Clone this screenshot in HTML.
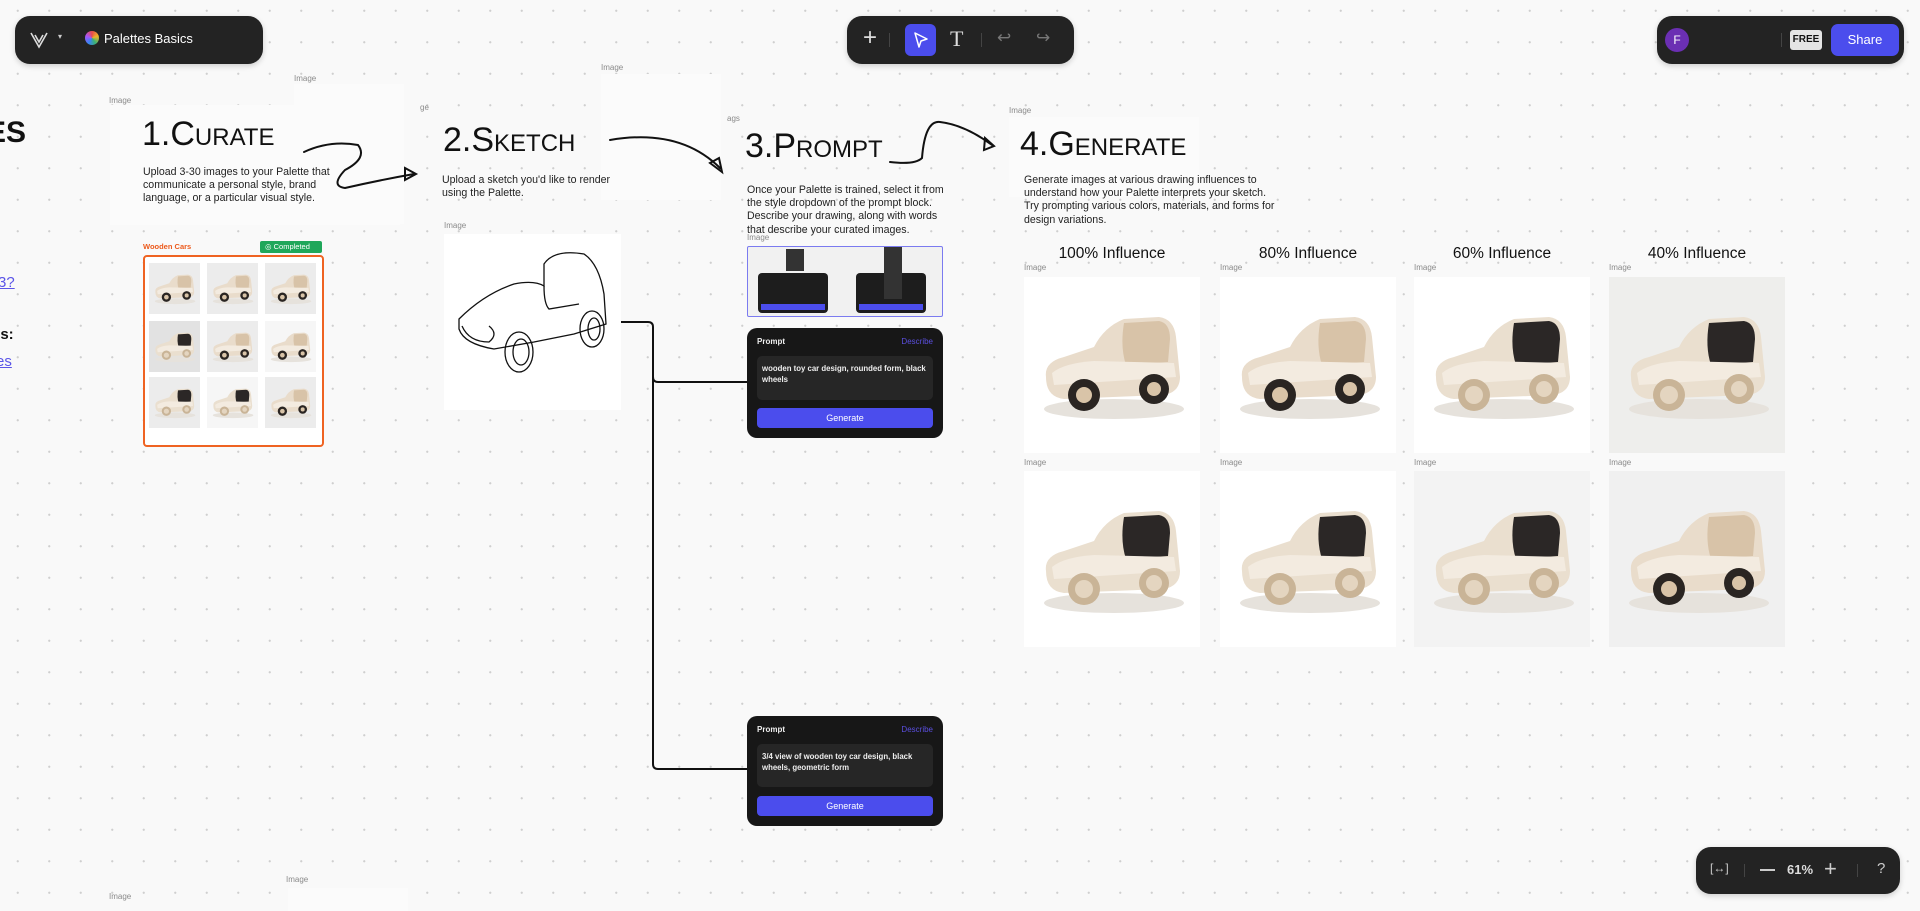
<!DOCTYPE html>
<html><head><meta charset="utf-8"><style>
*{margin:0;padding:0;box-sizing:border-box}
body{width:1920px;height:911px;overflow:hidden;position:relative;background-color:#f9f9f9;
background-image:radial-gradient(circle,#cfcfcf 0.9px,transparent 1.3px);background-size:31.5px 31.5px;background-position:2px -5px;
font-family:"Liberation Sans",sans-serif;color:#111}
.a{position:absolute}
.lbl{position:absolute;font-size:8px;color:#8a8a8a}
.hd{position:absolute;font-family:"Liberation Sans",sans-serif;font-variant:small-caps;font-size:34px;line-height:44px;color:#111;letter-spacing:0;font-weight:normal;white-space:nowrap}
.desc{position:absolute;font-size:10.6px;line-height:13.2px;color:#222}
.bar{position:absolute;background:#232323;border-radius:15px;box-shadow:0 2px 6px rgba(0,0,0,.18)}
.card{position:absolute;background:#171717;border-radius:10px;width:196px}
.card .t{position:absolute;left:10px;top:9px;font-size:8px;color:#eee;font-weight:bold}
.card .d{position:absolute;right:10px;top:9px;font-size:8px;color:#5b4fe0}
.card .ta{position:absolute;left:10px;right:10px;background:#262626;border-radius:5px;color:#eee;font-size:7.8px;font-weight:bold;padding:7px 5px;line-height:11px}
.card .btn{position:absolute;left:10px;right:10px;height:20px;background:#4b4ded;border-radius:4px;color:#fff;font-size:9px;text-align:center;line-height:20px}
.img{position:absolute;background:#fff}
.inf{position:absolute;font-size:15.5px;color:#111;width:176px;text-align:center}
.th{position:absolute;width:51px;height:51px;background:#ececec}
.faint{position:absolute;background:#fbfbfb}
</style></head><body>
<svg width="0" height="0" style="position:absolute">
<defs>
<symbol id="car" viewBox="0 0 176 176">
<ellipse cx="90" cy="132" rx="70" ry="10" fill="#e6e2dc"/>
<path d="M22 100 Q20 85 40 80 L70 70 Q80 50 100 42 L135 40 Q150 42 152 60 L156 100 Q156 115 140 118 L40 122 Q22 120 22 100Z" fill="#e9dccb"/>
<path d="M100 46 L135 44 Q146 46 146 62 L144 85 L102 88 Q96 70 100 46Z" fill="#d8c3a8"/>
<path d="M28 96 Q40 86 70 84 L150 86 L152 100 L30 108Z" fill="#f3ebe0"/>
<circle cx="60" cy="118" r="16" fill="#2a2522"/><circle cx="60" cy="118" r="8" fill="#d9c4a8"/>
<circle cx="130" cy="112" r="15" fill="#2a2522"/><circle cx="130" cy="112" r="7" fill="#d9c4a8"/>
</symbol>
<symbol id="carw" viewBox="0 0 176 176">
<ellipse cx="90" cy="132" rx="70" ry="10" fill="#e6e2dc"/>
<path d="M22 100 Q20 85 40 80 L70 70 Q80 50 100 42 L135 40 Q150 42 152 60 L156 100 Q156 115 140 118 L40 122 Q22 120 22 100Z" fill="#eadfcf"/>
<path d="M100 46 L135 44 Q146 46 146 62 L144 85 L102 88 Q96 70 100 46Z" fill="#2b2726"/>
<path d="M28 96 Q40 86 70 84 L150 86 L152 100 L30 108Z" fill="#f3ebe0"/>
<circle cx="60" cy="118" r="16" fill="#c9b497"/><circle cx="60" cy="118" r="9" fill="#e4d5c0"/>
<circle cx="130" cy="112" r="15" fill="#c9b497"/><circle cx="130" cy="112" r="8" fill="#e4d5c0"/>
</symbol>
</defs></svg>

<div class="faint" style="left:110px;top:105px;width:290px;height:120px"></div>
<div class="faint" style="left:294px;top:84px;width:110px;height:140px"></div>
<div class="faint" style="left:601px;top:74px;width:120px;height:126px"></div>
<div class="faint" style="left:1009px;top:117px;width:190px;height:80px"></div>

<div class="a" style="left:-14px;top:116px;font-size:30px;font-weight:bold;font-variant:small-caps">ES</div>
<div class="a" style="left:-2px;top:274px;font-size:15px;color:#5b55e8;text-decoration:underline">3?</div>
<div class="a" style="left:-8px;top:326px;font-size:15px;font-weight:bold">es:</div>
<div class="a" style="left:-4px;top:353px;font-size:15px;color:#5b55e8;text-decoration:underline">es</div>

<div class="bar" style="left:15px;top:16px;width:248px;height:48px">
<svg class="a" style="left:14px;top:15px" width="20" height="18" viewBox="0 0 20 18"><path d="M2 2 L10 16 L18 2 M6 4 L10 11 L14 4" fill="none" stroke="#ddd" stroke-width="1.6"/></svg>
<div class="a" style="left:43px;top:16px;color:#ccc;font-size:8px">▾</div>
<div class="a" style="left:70px;top:15px;width:14px;height:14px;border-radius:50%;background:conic-gradient(#e94b4b,#f0b429,#3bb273,#3b82f6,#a855f7,#e94b4b)"></div>
<div class="a" style="left:89px;top:15px;color:#fff;font-size:13px">Palettes Basics</div>
</div>

<div class="bar" style="left:847px;top:16px;width:227px;height:48px">
<div class="a" style="left:16px;top:8px;color:#ddd;font-size:24px;font-weight:300">+</div>
<div class="a" style="left:58px;top:8px;width:31px;height:32px;background:#4b4ded;border-radius:6px">
<svg width="31" height="32"><path d="M10 9 L22 15 L16 17 L14 23 Z" fill="none" stroke="#fff" stroke-width="1.5" stroke-linejoin="round"/></svg></div>
<div class="a" style="left:103px;top:10px;color:#ddd;font-size:22px;font-family:'Liberation Serif',serif">T</div>
<div class="a" style="left:42px;top:17px;width:1px;height:14px;background:#444"></div>
<div class="a" style="left:134px;top:17px;width:1px;height:14px;background:#444"></div>
<div class="a" style="left:150px;top:12px;color:#777;font-size:17px">↩</div>
<div class="a" style="left:189px;top:12px;color:#777;font-size:17px">↪</div>
</div>

<div class="bar" style="left:1657px;top:16px;width:247px;height:48px">
<div class="a" style="left:8px;top:12px;width:24px;height:24px;border-radius:50%;background:#6b2fb3;color:#fff;font-size:12px;text-align:center;line-height:24px">F</div>
<div class="a" style="left:124px;top:17px;width:1px;height:14px;background:#444"></div>
<div class="a" style="left:133px;top:14px;width:32px;height:20px;background:#e4e4e4;border-radius:3px;color:#111;font-size:10px;font-weight:bold;text-align:center;line-height:20px">FREE</div>
<div class="a" style="left:174px;top:8px;width:68px;height:32px;background:#4b4ded;border-radius:7px;color:#fff;font-size:13px;text-align:center;line-height:32px">Share</div>
</div>

<div class="bar" style="left:1696px;top:847px;width:204px;height:47px">
<div class="a" style="left:14px;top:14px;color:#ccc;font-size:12px">[↔]</div>
<div class="a" style="left:48px;top:17px;width:1px;height:13px;background:#444"></div>
<div class="a" style="left:64px;top:22px;width:15px;height:1.5px;background:#ccc"></div>
<div class="a" style="left:91px;top:15px;color:#ddd;font-size:13px;font-weight:bold">61%</div>
<div class="a" style="left:128px;top:9px;color:#ccc;font-size:22px;font-weight:300">+</div>
<div class="a" style="left:161px;top:17px;width:1px;height:13px;background:#444"></div>
<div class="a" style="left:181px;top:13px;color:#ccc;font-size:15px">?</div>
</div>

<div class="lbl" style="left:109px;top:96px">Image</div>
<div class="lbl" style="left:294px;top:74px">Image</div>
<div class="lbl" style="left:601px;top:63px">Image</div>
<div class="lbl" style="left:420px;top:103px">ge</div>
<div class="lbl" style="left:727px;top:114px">ags</div>
<div class="lbl" style="left:1009px;top:106px">Image</div>

<div class="hd" style="left:142px;top:112px">1.Curate</div>
<div class="desc" style="left:143px;top:166px">Upload 3-30 images to your Palette that<br>communicate a personal style, brand<br>language, or a particular visual style.</div>
<div class="a" style="left:143px;top:242px;font-size:7.5px;font-weight:bold;color:#ec5a1c">Wooden Cars</div>
<div class="a" style="left:260px;top:241px;width:62px;height:12px;background:#1fa75a;border-radius:2px;color:#fff;font-size:7.5px;line-height:12px;padding-left:5px">◎ Completed</div>
<div class="a" style="left:143px;top:255px;width:181px;height:192px;border:2px solid #ef6322;border-radius:4px;background:#fff"></div>
<div class="th" style="left:149px;top:263px"><svg width="51" height="51"><use href="#car"/></svg></div>
<div class="th" style="left:207px;top:263px"><svg width="51" height="51"><use href="#car"/></svg></div>
<div class="th" style="left:265px;top:263px"><svg width="51" height="51"><use href="#car"/></svg></div>
<div class="th" style="left:149px;top:321px;background:#e2e2e2"><svg width="51" height="51"><use href="#carw"/></svg></div>
<div class="th" style="left:207px;top:321px"><svg width="51" height="51"><use href="#car"/></svg></div>
<div class="th" style="left:265px;top:321px;background:#f6f6f6"><svg width="51" height="51"><use href="#car"/></svg></div>
<div class="th" style="left:149px;top:377px"><svg width="51" height="51"><use href="#carw"/></svg></div>
<div class="th" style="left:207px;top:377px;background:#f6f6f6"><svg width="51" height="51"><use href="#carw"/></svg></div>
<div class="th" style="left:265px;top:377px"><svg width="51" height="51"><use href="#car"/></svg></div>

<div class="hd" style="left:443px;top:118px">2.Sketch</div>
<div class="desc" style="left:442px;top:174px">Upload a sketch you'd like to render<br>using the Palette.</div>
<div class="lbl" style="left:444px;top:221px">Image</div>
<div class="img" style="left:444px;top:234px;width:177px;height:176px">
<svg width="177" height="176" viewBox="0 0 177 176"><g fill="none" stroke="#111" stroke-width="1.3">
<path d="M15 85 Q40 60 70 50 Q90 46 100 52 L100 30 Q110 15 140 20 Q155 30 160 60 L162 90 L130 100 L90 108 L50 115 Q20 110 15 95 Z"/>
<path d="M100 52 Q100 70 105 75 L135 70"/>
<ellipse cx="75" cy="118" rx="14" ry="20"/><ellipse cx="77" cy="118" rx="8" ry="13"/>
<ellipse cx="148" cy="95" rx="12" ry="18"/><ellipse cx="150" cy="95" rx="6" ry="11"/>
<path d="M18 92 Q25 108 45 108 Q55 100 45 92"/></g></svg></div>

<svg class="a" style="left:0;top:0" width="1920" height="911">
<g fill="none" stroke="#111" stroke-width="2" stroke-linecap="round">
<path d="M304 152 Q330 140 358 145 Q368 158 345 170 Q330 186 345 188 Q380 180 414 174"/>
<path d="M405 168 L416 174 L405 180 Z"/>
<path d="M610 140 Q680 128 720 168"/>
<path d="M710 163 L722 172 L719 158 Z"/>
<path d="M890 162 Q915 165 922 158 Q925 120 940 122 Q965 125 992 145"/>
<path d="M985 138 L994 146 L984 150 Z"/>
</g>
<g fill="none" stroke="#111" stroke-width="2">
<path d="M621 322 L648 322 Q653 322 653 327 L653 764 Q653 769 658 769 L747 769"/>
<path d="M653 377 Q653 382 658 382 L747 382"/>
</g></svg>

<div class="hd" style="left:745px;top:124px">3.Prompt</div>
<div class="desc" style="left:747px;top:184px">Once your Palette is trained, select it from<br>the style dropdown of the prompt block.<br>Describe your drawing, along with words<br>that describe your curated images.</div>
<div class="lbl" style="left:747px;top:233px">Image</div>
<div class="a" style="left:747px;top:246px;width:196px;height:71px;border:1.5px solid #7b7bf0;background:#f1f1f1;border-radius:2px">
<div class="a" style="left:10px;top:26px;width:70px;height:40px;background:#1d1d1d;border-radius:4px"></div>
<div class="a" style="left:13px;top:57px;width:64px;height:6px;background:#4b4ded"></div>
<div class="a" style="left:108px;top:26px;width:70px;height:40px;background:#1d1d1d;border-radius:4px"></div>
<div class="a" style="left:111px;top:57px;width:64px;height:6px;background:#4b4ded"></div>
<div class="a" style="left:38px;top:2px;width:18px;height:22px;background:#333"></div>
<div class="a" style="left:136px;top:0;width:18px;height:52px;background:#333"></div>
</div>
<div class="card" style="left:747px;top:328px;height:110px">
<div class="t">Prompt</div><div class="d">Describe</div>
<div class="ta" style="top:28px;height:44px">wooden toy car design, rounded form, black wheels</div>
<div class="btn" style="top:80px">Generate</div></div>
<div class="card" style="left:747px;top:716px;height:110px">
<div class="t">Prompt</div><div class="d">Describe</div>
<div class="ta" style="top:28px;height:43px">3/4 view of wooden toy car design, black wheels, geometric form</div>
<div class="btn" style="top:80px">Generate</div></div>

<div class="hd" style="left:1020px;top:122px">4.Generate</div>
<div class="desc" style="left:1024px;top:174px">Generate images at various drawing influences to<br>understand how your Palette interprets your sketch.<br>Try prompting various colors, materials, and forms for<br>design variations.</div>
<div class="inf" style="left:1024px;top:245px">100% Influence</div>
<div class="inf" style="left:1220px;top:245px">80% Influence</div>
<div class="inf" style="left:1414px;top:245px">60% Influence</div>
<div class="inf" style="left:1609px;top:245px">40% Influence</div>
<div class="lbl" style="left:1024px;top:263px">Image</div><div class="lbl" style="left:1220px;top:263px">Image</div><div class="lbl" style="left:1414px;top:263px">Image</div><div class="lbl" style="left:1609px;top:263px">Image</div>
<div class="lbl" style="left:1024px;top:458px">Image</div><div class="lbl" style="left:1220px;top:458px">Image</div><div class="lbl" style="left:1414px;top:458px">Image</div><div class="lbl" style="left:1609px;top:458px">Image</div>
<div class="img" style="left:1024px;top:277px;width:176px;height:176px"><svg width="176" height="176"><use href="#car"/></svg></div>
<div class="img" style="left:1220px;top:277px;width:176px;height:176px"><svg width="176" height="176"><use href="#car"/></svg></div>
<div class="img" style="left:1414px;top:277px;width:176px;height:176px"><svg width="176" height="176"><use href="#carw"/></svg></div>
<div class="img" style="left:1609px;top:277px;width:176px;height:176px;background:#eeeeec"><svg width="176" height="176"><use href="#carw"/></svg></div>
<div class="img" style="left:1024px;top:471px;width:176px;height:176px"><svg width="176" height="176"><use href="#carw"/></svg></div>
<div class="img" style="left:1220px;top:471px;width:176px;height:176px"><svg width="176" height="176"><use href="#carw"/></svg></div>
<div class="img" style="left:1414px;top:471px;width:176px;height:176px;background:#f3f3f3"><svg width="176" height="176"><use href="#carw"/></svg></div>
<div class="img" style="left:1609px;top:471px;width:176px;height:176px;background:#f0f0f0"><svg width="176" height="176"><use href="#car"/></svg></div>

<div class="lbl" style="left:109px;top:892px">Image</div>
<div class="lbl" style="left:286px;top:875px">Image</div>
<div class="faint" style="left:288px;top:888px;width:120px;height:23px"></div>
</body></html>
